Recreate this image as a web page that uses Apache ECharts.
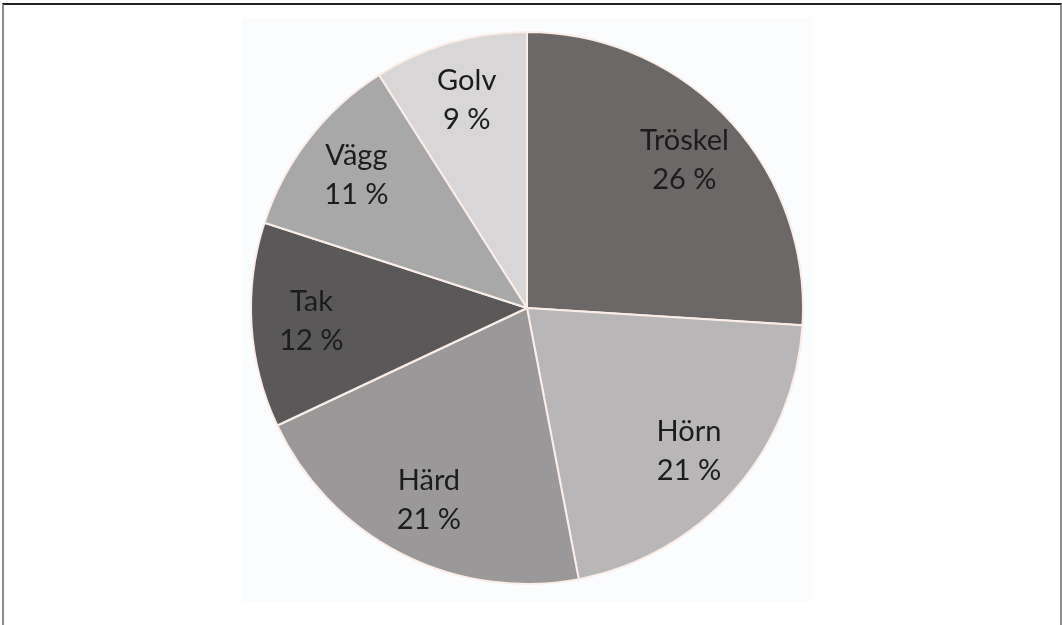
<!DOCTYPE html>
<html>
<head>
<meta charset="utf-8">
<script src="https://cdn.jsdelivr.net/npm/echarts@6/dist/echarts.min.js"></script>
<style>
  html, body { margin: 0; padding: 0; background: #fff; }
  #chart { width: 1062px; height: 625px; }
  .frame {
    position: absolute; left: 2px; top: 3px; width: 1056px; height: 630px;
    border-top: 2px solid #222; border-left: 2px solid #8c8c8c; border-right: 2px solid #8c8c8c;
    pointer-events: none;
  }
</style>
</head>
<body>
<div id="chart"></div>
<div class="frame"></div>
<script>
// andel per plats (procent), medurs från kl 12
var categories = ["Tröskel", "Hörn", "Härd", "Tak", "Vägg", "Golv"];
var values = [26, 21, 21, 12, 11, 9];
var colors = ["#6b6867", "#b8b6b6", "#9a9898", "#5a5858", "#a9a8a8", "#d8d6d6"];

var chart = echarts.init(document.getElementById("chart"));

var pieData = categories.map(function (name, i) {
  return { name: name, value: values[i], itemStyle: { color: colors[i] } };
});

var option = {
  backgroundColor: "#fff",
  animation: false,
  graphic: [
    {
      type: "rect",
      z: -1,
      shape: { x: 242, y: 18, width: 570, height: 584 },
      style: { fill: "#fbfcfe" }
    }
  ],
  series: [
    {
      type: "pie",
      center: [527, 308],
      radius: [0, 276],
      startAngle: 90,
      clockwise: true,
      silent: true,
      label: { show: false },
      labelLine: { show: false },
      itemStyle: { borderColor: "#fbeee8", borderWidth: 2 },
      data: pieData
    },
    {
      // transparent ring only used to place labels further out
      type: "pie",
      center: [527, 308],
      radius: [150, 276],
      startAngle: 90,
      clockwise: true,
      silent: true,
      itemStyle: { color: "rgba(0,0,0,0)" },
      label: {
        show: true,
        position: "inside",
        formatter: "{b}\n{c} %",
        color: "#1c1c1c",
        fontSize: 29,
        lineHeight: 39,
        fontFamily: "Lato"
      },
      labelLine: { show: false },
      data: categories.map(function (name, i) {
        return { name: name, value: values[i] };
      })
    }
  ]
};

chart.setOption(option);
</script>
</body>
</html>
